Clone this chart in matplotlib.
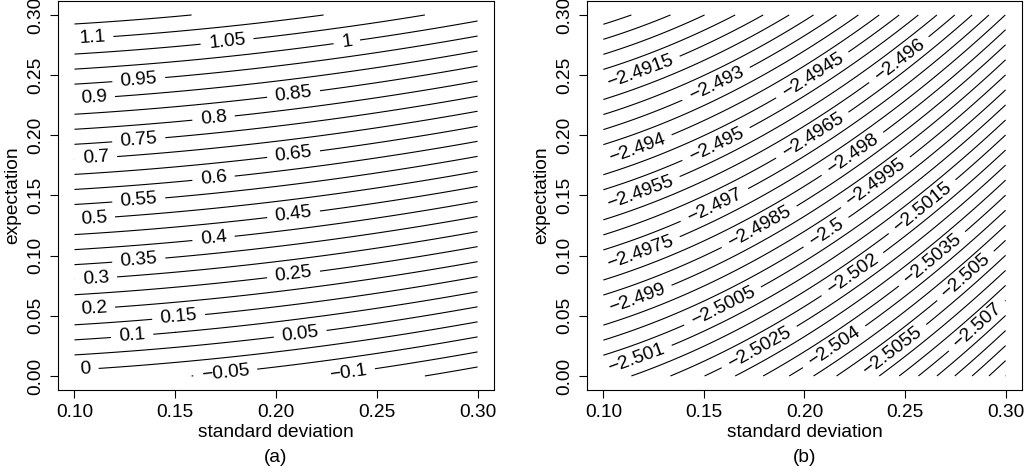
import numpy as np
import matplotlib.pyplot as plt

plt.rcParams['font.family'] = ['Liberation Sans', 'DejaVu Sans']
plt.rcParams['axes.linewidth'] = 0.8
plt.rcParams['contour.negative_linestyle'] = 'solid'

# grid of (standard deviation, expectation) used for both panels
sd_lim = [0.10, 0.30]
mu_lim = [0.00, 0.30]

# panel (a): surface = mu_coef*mu + sd2_coef*sd^2 + const
a_mu_coef, a_sd2_coef, a_const = 4.0, -2.0, 0.0
levels_a = [-0.15, -0.1, -0.05, 0.0, 0.05, 0.1, 0.15, 0.2, 0.25, 0.3, 0.35, 0.4,
            0.45, 0.5, 0.55, 0.6, 0.65, 0.7, 0.75, 0.8, 0.85, 0.9, 0.95, 1.0,
            1.05, 1.1, 1.15]
# (level, standard deviation where its label sits)
labels_a = [(1.1, 0.1088), (1.05, 0.1757), (1.0, 0.2351), (0.95, 0.1319),
            (0.9, 0.1096), (0.85, 0.2087), (0.8, 0.169), (0.75, 0.1319),
            (0.7, 0.1106), (0.65, 0.2087), (0.6, 0.169), (0.55, 0.1319),
            (0.5, 0.1096), (0.45, 0.2087), (0.4, 0.169), (0.35, 0.1319),
            (0.3, 0.1106), (0.25, 0.2087), (0.2, 0.1096), (0.15, 0.1517),
            (0.1, 0.1286), (0.05, 0.212), (0.0, 0.1054), (-0.05, 0.1748),
            (-0.1, 0.2359)]

# panel (b)
b_mu_coef, b_sd2_coef, b_const = 0.04, -0.104, -2.50015
levels_b = [-2.5095, -2.509, -2.5085, -2.508, -2.5075, -2.507, -2.5065, -2.506,
            -2.5055, -2.505, -2.5045, -2.504, -2.5035, -2.503, -2.5025, -2.502,
            -2.5015, -2.501, -2.5005, -2.5, -2.4995, -2.499, -2.4985, -2.498,
            -2.4975, -2.497, -2.4965, -2.496, -2.4955, -2.495, -2.4945, -2.494,
            -2.4935, -2.493, -2.4925, -2.492, -2.4915, -2.491, -2.4905, -2.49,
            -2.4895]
labels_b = [(-2.4915, 0.1182), (-2.493, 0.1562), (-2.4945, 0.2041), (-2.496, 0.2471),
            (-2.494, 0.1166), (-2.495, 0.1562), (-2.4965, 0.2041), (-2.498, 0.224),
            (-2.4955, 0.1182), (-2.497, 0.1554), (-2.4985, 0.1777), (-2.4995, 0.2355),
            (-2.5, 0.2108), (-2.5015, 0.2587), (-2.4975, 0.1182), (-2.499, 0.1166),
            (-2.5005, 0.1595), (-2.502, 0.224), (-2.5035, 0.2636), (-2.501, 0.1166),
            (-2.5025, 0.1777), (-2.504, 0.2149), (-2.505, 0.2802), (-2.5055, 0.2438),
            (-2.507, 0.2859)]

FS = 13.8
sd = np.linspace(sd_lim[0], sd_lim[1], 241)
mu = np.linspace(mu_lim[0], mu_lim[1], 241)
S, M = np.meshgrid(sd, mu)


def fmt(v):
    s = f"{v:.4f}".rstrip('0').rstrip('.')
    return s.replace('-', '\u2212')


def panel(ax, mu_c, sd2_c, c, levels, labels, tag):
    Z = mu_c * M + sd2_c * S ** 2 + c
    ax.set_xlim(0.092, 0.308)
    ax.set_ylim(-0.012, 0.312)
    cs = ax.contour(S, M, Z, levels=sorted(levels), colors='black',
                    linewidths=0.8, linestyles='solid')
    spots = [(x, (lev - c - sd2_c * x ** 2) / mu_c) for lev, x in labels]
    ax.clabel(cs, manual=spots, inline=True, inline_spacing=8, fmt=fmt,
              fontsize=FS)
    ax.set_xticks([0.10, 0.15, 0.20, 0.25, 0.30])
    ax.set_xticklabels(["0.10", "0.15", "0.20", "0.25", "0.30"])
    ax.set_yticks([0.00, 0.05, 0.10, 0.15, 0.20, 0.25, 0.30])
    ax.set_yticklabels(["0.00", "0.05", "0.10", "0.15", "0.20", "0.25", "0.30"])
    ax.tick_params(length=6, width=0.8, labelsize=FS, pad=4)
    ax.tick_params(axis='y', labelrotation=90)
    for t in ax.get_yticklabels():
        t.set_va('center')
    ax.set_xlabel("standard deviation", fontsize=FS, va='center')
    ax.xaxis.set_label_coords(0.5, -0.1085)
    ax.set_ylabel("expectation", fontsize=FS, va='center')
    ax.yaxis.set_label_coords(-0.104, 0.5)
    ax.text(0.5, -0.1726, tag, transform=ax.transAxes, ha='center',
            va='center', fontsize=FS)


fig = plt.figure(figsize=(10.29, 4.73), dpi=100)
ax1 = fig.add_axes([0.0567, 0.1746, 0.4231, 0.8243])
ax2 = fig.add_axes([0.5707, 0.1746, 0.4222, 0.8243])

panel(ax1, a_mu_coef, a_sd2_coef, a_const, levels_a, labels_a, "(a)")
panel(ax2, b_mu_coef, b_sd2_coef, b_const, levels_b, labels_b, "(b)")

fig.savefig("out.png", dpi=100)
